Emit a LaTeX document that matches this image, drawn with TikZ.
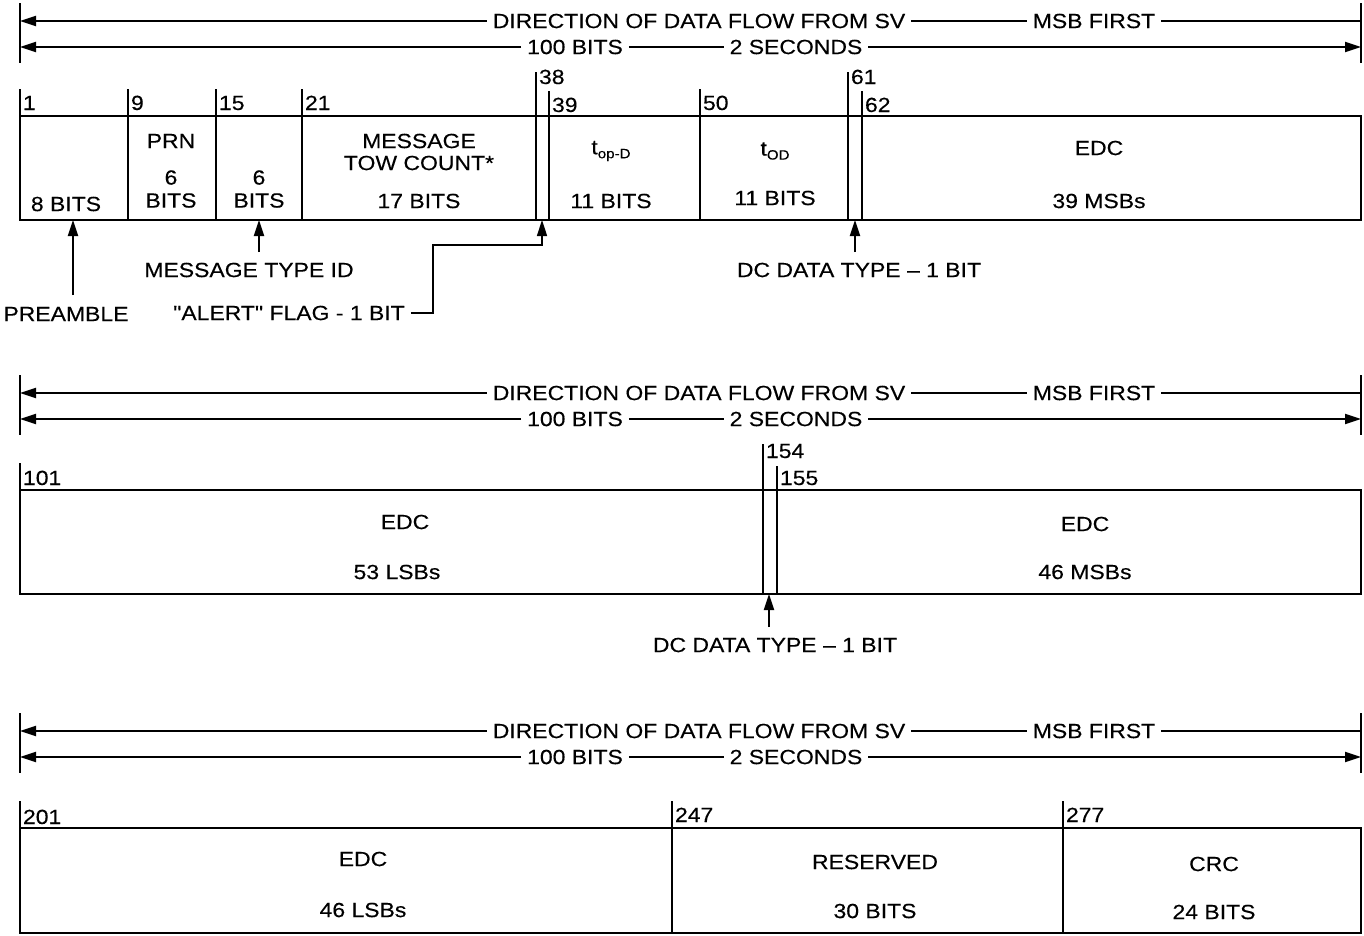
\documentclass[tikz,border=0pt]{standalone}
\usepackage{fontspec}
\setmainfont[FakeStretch=1.12,FakeBold=0.3,Ligatures=TeXOff]{Liberation Sans}
\usetikzlibrary{arrows.meta}
\tikzset{
  lbl/.style={inner sep=5pt, font=\fontsize{20.5}{23}\selectfont, align=center},
  num/.style={anchor=base west, inner sep=2pt, font=\fontsize{20.5}{23}\selectfont},
  arr/.style={-{Triangle[length=16pt,width=10pt]}},
}
\newcommand{\subtxt}[1]{\raisebox{-4pt}{\fontsize{13.5}{14}\selectfont #1}}

\begin{document}
\begin{tikzpicture}[x=1pt,y=-1pt,line width=2pt]
\useasboundingbox (0,0) rectangle (1364,935);

%% direction of data flow headers
\foreach \i/\y in {1/21,2/393,3/731} {
  \coordinate (lt\i) at (20,{\y-18});
  \coordinate (lb\i) at (20,{\y+42});
  \coordinate (rt\i) at (1361,{\y-18});
  \coordinate (rb\i) at (1361,{\y+42});
  \draw (lt\i) -- (lb\i);
  \draw (rt\i) -- (rb\i);
  \node[lbl] (dir\i) at (699,\y) {DIRECTION OF DATA FLOW FROM SV};
  \node[lbl] (msb\i) at (1094,\y) {MSB FIRST};
  \node[lbl] (bits\i) at (575,{\y+26}) {100 BITS};
  \node[lbl] (sec\i) at (796,{\y+26}) {2 SECONDS};
  \draw[arr] (dir\i.west) -- (dir\i.west -| lt\i);
  \draw (dir\i.east) -- (msb\i.west);
  \draw (msb\i.east) -- (msb\i.east -| rt\i);
  \draw[arr] (bits\i.west) -- (bits\i.west -| lt\i);
  \draw (bits\i.east) -- (sec\i.west);
  \draw[arr] (sec\i.east) -- (sec\i.east -| rt\i);
}

%% word 1
\draw (20,116) rectangle (1361,220);
\draw (20,89) -- (20,116);
\node[num] (n1) at (20,110) {1};
\foreach \x/\n/\t/\b in {128/9/89/110, 216/15/89/110, 302/21/89/110, 549/39/91/112,
                         700/50/89/110, 862/62/91/112, 536/38/72/84, 848/61/72/84} {
  \draw (\x,\t) -- (\x,220);
  \node[num] (n\n) at (\x,\b) {\n};
}
\node[lbl] (pre-bits) at (66,204) {8 BITS};
\node[lbl] (prn) at (171,141) {PRN};
\node[lbl] (prn-bits) at (171,189) {6\\BITS};
\node[lbl] (mt-bits) at (259,189) {6\\BITS};
\node[lbl] (tow) at (419,152) {MESSAGE\\[-1pt]TOW COUNT*};
\node[lbl] (tow-bits) at (419,201) {17 BITS};
\node[lbl] (topd) at (611,151) {t\subtxt{op-D}};
\node[lbl] (topd-bits) at (611,201) {11 BITS};
\node[lbl] (tod) at (775,151) {t\subtxt{OD}};
\node[lbl] (tod-bits) at (775,198) {11 BITS};
\node[lbl] (edc1) at (1099,148) {EDC};
\node[lbl] (edc1-bits) at (1099,201) {39 MSBs};

%% call-outs below word 1
\node[lbl] (pre) at (66,314) {PREAMBLE};
\coordinate (pre-tail) at (73,295);
\coordinate (pre-tip) at (73,220);
\draw[arr] (pre-tail) -- (pre-tip);
\node[lbl] (mtid) at (249,270) {MESSAGE TYPE ID};
\coordinate (mtid-tip) at (259,220);
\draw[arr] (259,252) -- (mtid-tip);
\node[lbl] (alert) at (289,313) {"ALERT" FLAG - 1 BIT};
\coordinate (alert-bend) at (433,245);
\coordinate (alert-tip) at (542,220);
\draw[arr,line width=1.6pt] (alert.east) -| (alert-bend) -| (alert-tip);
\node[lbl] (dc1) at (859,270) {DC DATA TYPE – 1 BIT};
\coordinate (dc1-tip) at (855,220);
\draw[arr] (855,252) -- (dc1-tip);

%% word 2
\draw (20,490) rectangle (1361,594);
\draw (20,463) -- (20,490);
\node[num] (n101) at (20,485) {101};
\draw (763,444) -- (763,594);
\node[num] (n154) at (763,458) {154};
\draw (777,466) -- (777,594);
\node[num] (n155) at (777,485) {155};
\node[lbl] (edc2) at (405,522) {EDC};
\node[lbl] (edc2-bits) at (397,572) {53 LSBs};
\node[lbl] (edc3) at (1085,524) {EDC};
\node[lbl] (edc3-bits) at (1085,572) {46 MSBs};
\node[lbl] (dc2) at (775,645) {DC DATA TYPE – 1 BIT};
\coordinate (dc2-tip) at (769,594);
\draw[arr] (769,627) -- (dc2-tip);

%% word 3
\draw (20,828) rectangle (1361,933);
\draw (20,801) -- (20,828);
\node[num] (n201) at (20,824) {201};
\draw (672,801) -- (672,933);
\node[num] (n247) at (672,822) {247};
\draw (1063,801) -- (1063,933);
\node[num] (n277) at (1063,822) {277};
\node[lbl] (edc4) at (363,859) {EDC};
\node[lbl] (edc4-bits) at (363,910) {46 LSBs};
\node[lbl] (res) at (875,862) {RESERVED};
\node[lbl] (res-bits) at (875,911) {30 BITS};
\node[lbl] (crc) at (1214,864) {CRC};
\node[lbl] (crc-bits) at (1214,912) {24 BITS};
\end{tikzpicture}
\end{document}
